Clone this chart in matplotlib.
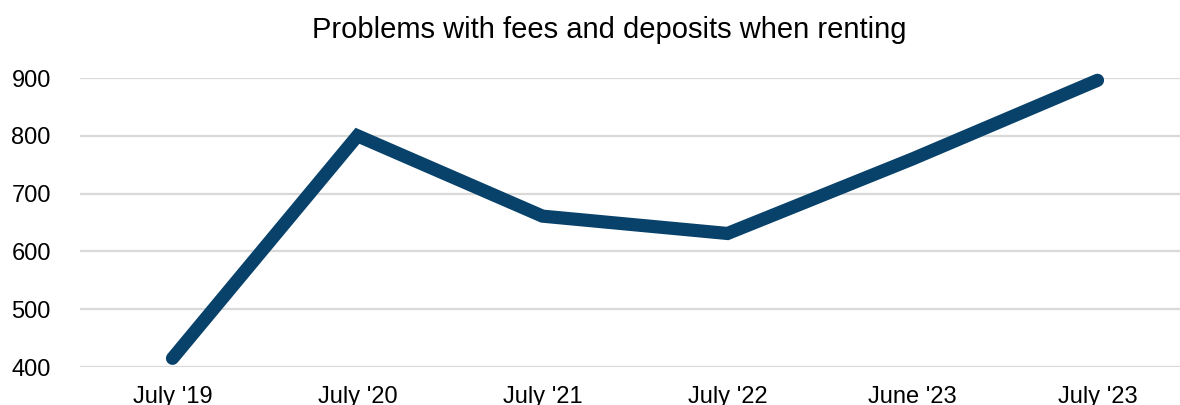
import matplotlib
matplotlib.use("Agg")
import matplotlib.pyplot as plt

categories = ["July '19", "July '20", "July '21", "July '22", "June '23", "July '23"]
values = [415, 800, 661, 631, 760, 896]
yticks = [400, 500, 600, 700, 800, 900]

plt.rcParams['font.family'] = ['Liberation Sans', 'DejaVu Sans']

W, H = 1180, 405
fig = plt.figure(figsize=(W/100, H/100), dpi=100)
ax = fig.add_axes([80/W, 38/H, 1110/W, 289/H])
x = list(range(len(categories)))
ax.plot(x, values, color='#08426A', lw=9.5, solid_capstyle='round', solid_joinstyle='miter', zorder=3, clip_on=False)
ax.set_xlim(-0.5, len(categories)-0.5)
ax.set_ylim(400, 900)
ax.set_yticks(yticks)
ax.set_xticks(x)
ax.set_xticklabels(categories)
ax.grid(axis='y', color='#D9D9D9', lw=1.6)
ax.set_axisbelow(True)
for s in ax.spines.values():
    s.set_visible(False)
ax.tick_params(axis='both', length=0, labelsize=17, colors='black')
ax.tick_params(axis='y', pad=21)
ax.tick_params(axis='x', pad=14)
fig.text(609/W, 1 - 30/H, "Problems with fees and deposits when renting", ha='center', va='center', fontsize=21)
fig.savefig("out.png", dpi=100)
